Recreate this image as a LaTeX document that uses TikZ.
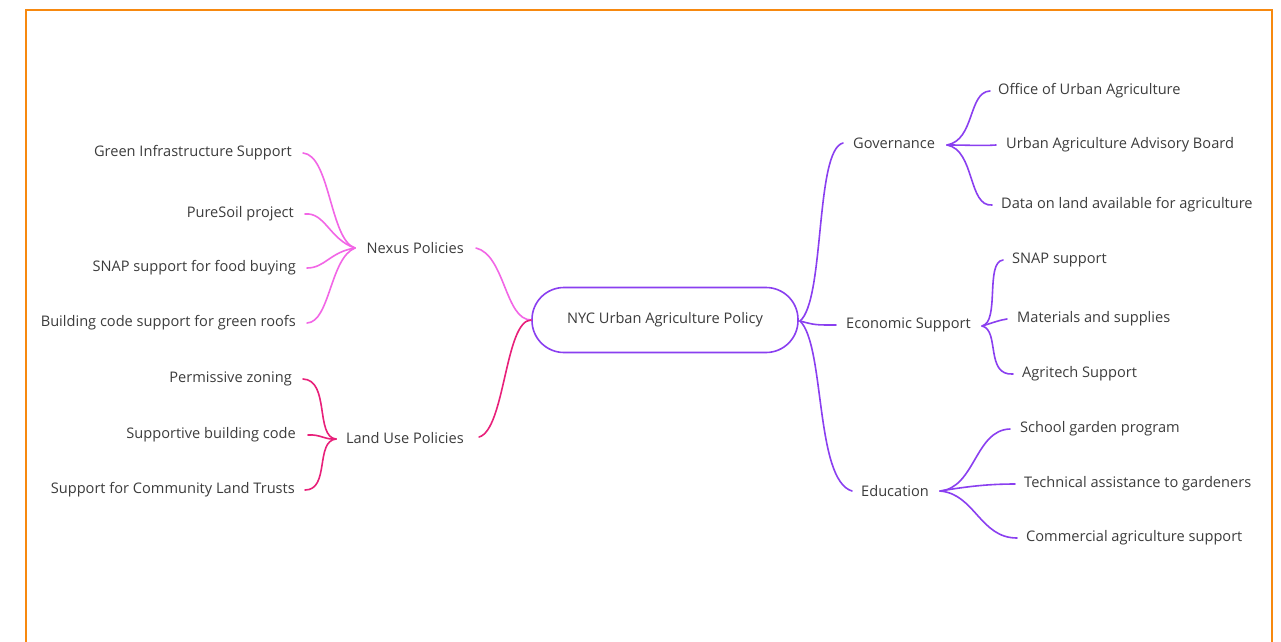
\documentclass[tikz,border=0pt]{standalone}
\usepackage{fontspec}
\setmainfont{Open Sans}
\definecolor{frameor}{HTML}{F7890F}
\definecolor{txt}{HTML}{3C3C3C}
\definecolor{nexpink}{HTML}{F266E6}
\definecolor{landpink}{HTML}{E8207A}
\definecolor{purp}{HTML}{8A3FF0}
\begin{document}
\begin{tikzpicture}[x=1pt,y=-1pt,
  lbl/.style={font=\fontsize{14.6}{16}\selectfont, text=txt, inner xsep=0pt, inner ysep=2pt},
  con/.style={line width=1.6pt, line cap=round},
  nex/.style={con, draw=nexpink},
  land/.style={con, draw=landpink},
  pur/.style={con, draw=purp}]
\useasboundingbox (0,0) rectangle (1281,641);
\fill[white] (0,0) rectangle (1281,641);
\draw[frameor, line width=2.5pt] (26,645) -- (26,10) -- (1272,10) -- (1272,645);

% central
\node[draw=purp, line width=1.6pt, rounded corners=32pt, minimum width=266pt, minimum height=65pt,
      font=\fontsize{14.6}{16}\selectfont, text=txt] (root) at (665,320) {NYC Urban Agriculture Policy};

% left level 1
\node[lbl, anchor=east] (nexus) at (464,248) {Nexus Policies};
\node[lbl, anchor=east] (land) at (464,438) {Land Use Policies};
\coordinate (nexR) at (476,248);
\coordinate (landR) at (479,437);
\coordinate (nexJ) at (355,248);
\coordinate (landJ) at (336,439);

% nexus children
\node[lbl, anchor=east] (n1) at (292,153) {Green Infrastructure Support};
\node[lbl, anchor=east] (n2) at (294,214) {PureSoil project};
\node[lbl, anchor=east] (n3) at (296,268) {SNAP support for food buying};
\node[lbl, anchor=east] (n4) at (296,323) {Building code support for green roofs};
% land children
\node[lbl, anchor=east] (l1) at (292,379) {Permissive zoning};
\node[lbl, anchor=east] (l2) at (296,435) {Supportive building code};
\node[lbl, anchor=east] (l3) at (295,490) {Support for Community Land Trusts};

% right level 1
\node[lbl, anchor=west] (gov) at (853,143) {Governance};
\node[lbl, anchor=west] (eco) at (846,325) {Economic Support};
\node[lbl, anchor=west] (edu) at (861,491) {Education};
\coordinate (rootR) at (800,321);
\coordinate (govJ) at (947,145);
\coordinate (ecoJ) at (982,326);
\coordinate (eduJ) at (940,491);

% right children
\node[lbl, anchor=west] (g1) at (998,91) {Office of Urban Agriculture};
\node[lbl, anchor=west] (g2) at (1006,145) {Urban Agriculture Advisory Board};
\node[lbl, anchor=west] (g3) at (1001,205) {Data on land available for agriculture};
\node[lbl, anchor=west] (e1) at (1012,260) {SNAP support};
\node[lbl, anchor=west] (e2) at (1017,319) {Materials and supplies};
\node[lbl, anchor=west] (e3) at (1022,374) {Agritech Support};
\node[lbl, anchor=west] (d1) at (1020,429) {School garden program};
\node[lbl, anchor=west] (d2) at (1024,484) {Technical assistance to gardeners};
\node[lbl, anchor=west] (d3) at (1026,538) {Commercial agriculture support};

% root to level 1
\draw[nex] (nexR) .. controls (505,255) and (505,320) .. (root.west);
\draw[land] (landR) .. controls (505,430) and (505,320) .. (root.west);
\draw[pur] (rootR) .. controls (825,300) and (815,150) .. ([xshift=-10pt]gov.west);
\draw[pur] (rootR) .. controls (815,325) .. ([xshift=-10pt]eco.west);
\draw[pur] (rootR) .. controls (825,345) and (815,480) .. ([xshift=-9pt]edu.west);

% nexus leaves
\draw[nex] ([xshift=11pt]n1.east) .. controls (330,155) and (330,240) .. (nexJ);
\draw[nex] ([xshift=11pt]n2.east) .. controls (325,212) and (330,240) .. (nexJ);
\draw[nex] ([xshift=11pt]n3.east) .. controls (325,268) and (330,252) .. (nexJ);
\draw[nex] ([xshift=11pt]n4.east) .. controls (330,322) and (330,258) .. (nexJ);
% land leaves
\draw[land] ([xshift=11pt]l1.east) .. controls (330,380) and (315,437) .. (landJ);
\draw[land] ([xshift=12pt]l2.east) .. controls (320,434) and (325,440) .. (landJ);
\draw[land] ([xshift=10pt]l3.east) .. controls (330,490) and (315,441) .. (landJ);
% governance leaves
\draw[pur] (govJ) .. controls (975,140) and (968,92) .. ([xshift=-8pt]g1.west);
\draw[pur] (govJ) .. controls (970,145) and (980,146) .. ([xshift=-10pt]g2.west);
\draw[pur] (govJ) .. controls (975,150) and (968,207) .. ([xshift=-9pt]g3.west);
% economic leaves
\draw[pur] (ecoJ) .. controls (1000,322) and (985,262) .. ([xshift=-9pt]e1.west);
\draw[pur] (ecoJ) .. controls (995,322) and (1000,320) .. ([xshift=-10pt]e2.west);
\draw[pur] (ecoJ) .. controls (1000,330) and (985,376) .. ([xshift=-9pt]e3.west);
% education leaves
\draw[pur] (eduJ) .. controls (975,488) and (975,430) .. ([xshift=-10pt]d1.west);
\draw[pur] (eduJ) .. controls (970,486) and (990,484) .. ([xshift=-9pt]d2.west);
\draw[pur] (eduJ) .. controls (975,494) and (980,538) .. ([xshift=-9pt]d3.west);
\end{tikzpicture}
\end{document}
